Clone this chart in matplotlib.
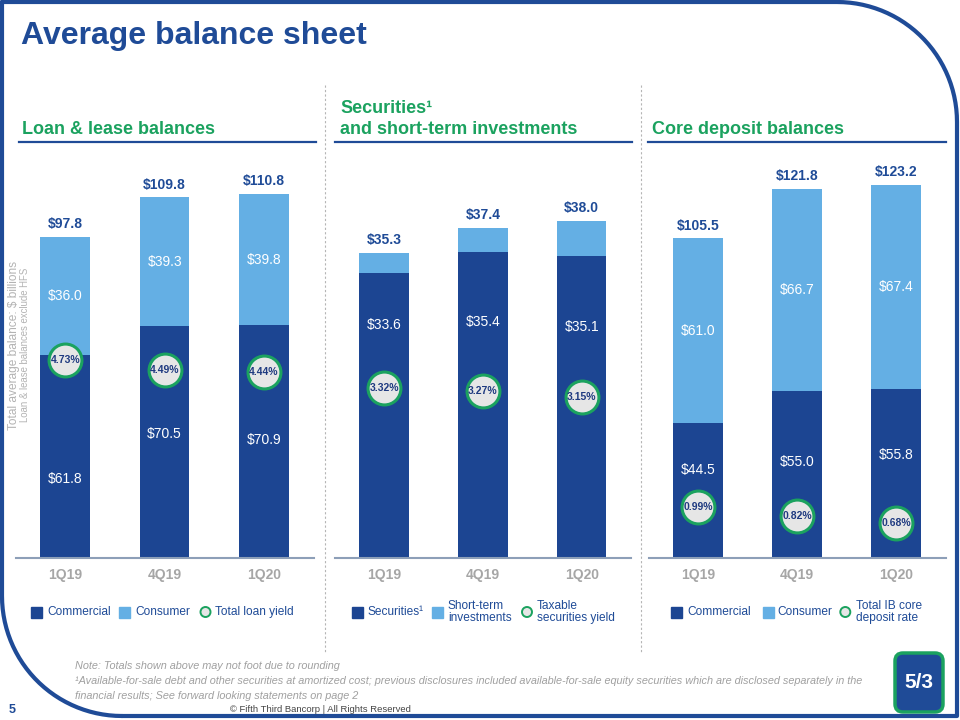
import numpy as np
import matplotlib.pyplot as plt
from matplotlib.patches import Rectangle, FancyBboxPatch, Circle

plt.rcParams['font.family'] = ['Liberation Sans', 'DejaVu Sans']

quarters = ['1Q19', '4Q19', '1Q20']

loan_commercial = [61.8, 70.5, 70.9]
loan_consumer = [36.0, 39.3, 39.8]
loan_total = [97.8, 109.8, 110.8]
loan_yield = [4.73, 4.49, 4.44]

sec_securities = [33.6, 35.4, 35.1]
sec_short_term = [1.7, 2.0, 2.9]
sec_total = [35.3, 37.4, 38.0]
sec_yield = [3.32, 3.27, 3.15]

dep_commercial = [44.5, 55.0, 55.8]
dep_consumer = [61.0, 66.7, 67.4]
dep_total = [105.5, 121.8, 123.2]
dep_rate = [0.99, 0.82, 0.68]

DARK = '#1c4592'
LIGHT = '#64afe4'
BLUE = '#1f4b97'
GREEN = '#1ba25f'
GRAY = '#a6a6a6'
CIRCLE_FILL = '#e6e6e6'

fig = plt.figure(figsize=(9.6, 7.2), dpi=100)

# background layer in pixel coordinates
bg = fig.add_axes([0, 0, 1, 1])
bg.set_xlim(0, 960)
bg.set_ylim(720, 0)
bg.axis('off')

# slide frame with rounded top-right and bottom-left corners
r = 120
t1 = np.linspace(-np.pi / 2, 0, 30)
t2 = np.linspace(np.pi / 2, np.pi, 30)
xs = [2, 957 - r] + list(957 - r + r * np.cos(t1)) + [957, 2 + r] + list(2 + r + r * np.cos(t2)) + [2, 2]
ys = [2, 2] + list(2 + r + r * np.sin(t1)) + [716, 716] + list(716 - r + r * np.sin(t2)) + [2, 2]
bg.plot(xs, ys, color=BLUE, lw=3, solid_capstyle='round')

bg.text(21, 44, 'Average balance sheet', fontsize=23, fontweight='bold', color=BLUE, va='baseline')

# panel headers
bg.text(22, 134, 'Loan & lease balances', fontsize=13, fontweight='bold', color=GREEN, va='baseline')
bg.text(340, 113, 'Securities\u00b9', fontsize=13, fontweight='bold', color=GREEN, va='baseline')
bg.text(340, 134, 'and short-term investments', fontsize=13, fontweight='bold', color=GREEN, va='baseline')
bg.text(652, 134, 'Core deposit balances', fontsize=13, fontweight='bold', color=GREEN, va='baseline')
for x0, x1 in [(19, 316), (335, 632), (648, 946)]:
    bg.plot([x0, x1], [142, 142], color=BLUE, lw=1.6)

# dotted separators
for x in [325, 641]:
    bg.plot([x, x], [85, 652], color='#b5b5b5', lw=0.8, ls=(0, (2, 2)))

# y-axis description
bg.text(14, 345, 'Total average balance: $ billions', rotation=90, fontsize=8.6,
        color='#b3b3b3', ha='center', va='center')
bg.text(25.5, 345, 'Loan & lease balances exclude HFS', rotation=90, fontsize=6.9,
        color='#b3b3b3', ha='center', va='center')

panels = [
    dict(left=15.6, right=313.7, lower=loan_commercial, upper=loan_consumer, total=loan_total,
         rate=loan_yield, ylim=(0, 121.8), rlim=(0, 9.55), frac=[0.39, 0.535, 0.507], upper_label=True),
    dict(left=334.6, right=631.1, lower=sec_securities, upper=sec_short_term, total=sec_total,
         rate=sec_yield, ylim=(9.7, 43.3), rlim=(0, 7.81), frac=[0.871, 0.833, 0.829], upper_label=False),
    dict(left=648.5, right=945.5, lower=dep_commercial, upper=dep_consumer, total=dep_total,
         rate=dep_rate, ylim=(0, 132), rlim=(0, 7.77), frac=[0.652, 0.576, 0.609], upper_label=True),
]

x = np.arange(len(quarters))
for p in panels:
    ax = fig.add_axes([p['left'] / 960, 1 - 558 / 720, (p['right'] - p['left']) / 960, 400 / 720])
    ax.patch.set_alpha(0)
    ax.bar(x, p['lower'], 0.5, color=DARK)
    ax.bar(x, p['upper'], 0.5, bottom=p['lower'], color=LIGHT)
    ax.set_xlim(-0.5, 2.5)
    ax.set_ylim(*p['ylim'])
    for s in ['top', 'left', 'right']:
        ax.spines[s].set_visible(False)
    ax.spines['bottom'].set_color('#8d9fb8')
    ax.spines['bottom'].set_linewidth(1.5)
    ax.set_yticks([])
    ax.set_xticks(x)
    ax.set_xticklabels(quarters, fontsize=10, fontweight='bold', color=GRAY)
    ax.tick_params(axis='x', length=0, pad=7)

    for i in x:
        ax.annotate(f'${p["total"][i]:.1f}', (i, p['total'][i]), xytext=(0, 9.2),
                    textcoords='offset points', ha='center', va='center',
                    fontsize=10, fontweight='bold', color=BLUE)
        ax.text(i, p['lower'][i] * p['frac'][i], f'${p["lower"][i]:.1f}', ha='center', va='center',
                fontsize=10, color='white')
        if p['upper_label']:
            ax.text(i, p['lower'][i] + p['upper'][i] / 2, f'${p["upper"][i]:.1f}', ha='center',
                    va='center', fontsize=10, color='white')

    ax2 = ax.twinx()
    ax2.set_ylim(*p['rlim'])
    ax2.axis('off')
    ax2.scatter(x, p['rate'], s=560, facecolor=CIRCLE_FILL, edgecolor=GREEN, linewidths=2.2, zorder=3)
    for i in x:
        ax2.text(i, p['rate'][i], f'{p["rate"][i]:.2f}%', ha='center', va='center',
                 fontsize=7.5, fontweight='bold', color='#1f3a80', zorder=4)

# legends
LEG = '#1f4b97'
legend_items = [
    [('sq', DARK, 36.5, 47, 'Commercial'), ('sq', LIGHT, 124.5, 135, 'Consumer'),
     ('ci', None, 205.5, 215, 'Total loan yield')],
    [('sq', DARK, 357, 367.5, 'Securities\u00b9'), ('sq', LIGHT, 437, 448, 'Short-term\ninvestments'),
     ('ci', None, 527, 537, 'Taxable\nsecurities yield')],
    [('sq', DARK, 676.7, 687.5, 'Commercial'), ('sq', LIGHT, 768, 777, 'Consumer'),
     ('ci', None, 845.3, 856.5, 'Total IB core\ndeposit rate')],
]
for items in legend_items:
    for kind, col, cx, tx, label in items:
        if kind == 'sq':
            bg.add_patch(Rectangle((cx - 5.5, 612 - 5.5), 11, 11, color=col))
        else:
            bg.add_patch(Circle((cx, 612), 5, facecolor=CIRCLE_FILL, edgecolor=GREEN, lw=1.4))
        bg.text(tx, 612, label, fontsize=8.6, color=LEG, ha='left', va='center', linespacing=1.1)

# footnotes
notes = ['Note: Totals shown above may not foot due to rounding',
         '\u00b9Available-for-sale debt and other securities at amortized cost; previous disclosures included '
         'available-for-sale equity securities which are disclosed separately in the',
         'financial results; See forward looking statements on page 2']
for k, line in enumerate(notes):
    bg.text(75, 666 + 15 * k, line, fontsize=7.8, style='italic', color='#a0a0a0', va='center')

bg.text(320, 709.5, '\u00a9 Fifth Third Bancorp | All Rights Reserved', fontsize=6.8, color='#444444',
        ha='center', va='center')
bg.text(9, 710, '5', fontsize=9, fontweight='bold', color=BLUE, ha='left', va='center')

# logo
bg.add_patch(FancyBboxPatch((895, 653), 48, 59, boxstyle='round,pad=0,rounding_size=8',
                            facecolor=BLUE, edgecolor=GREEN, lw=2.5))
bg.text(919, 682, '5/3', fontsize=15, fontweight='bold', color='white', ha='center', va='center')

fig.savefig('out.png', dpi=100)
